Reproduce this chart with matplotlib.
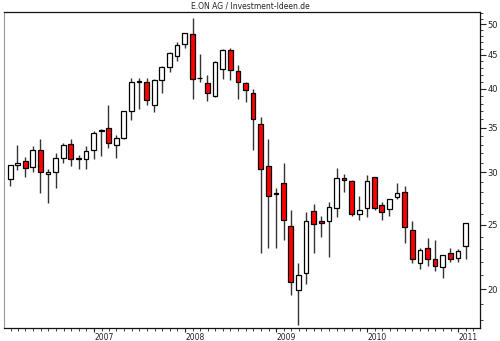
import matplotlib
matplotlib.use("Agg")
import matplotlib.pyplot as plt
import matplotlib.dates as mdates
from matplotlib.ticker import FixedLocator, NullFormatter
import numpy as np
import pandas as pd

# monthly candles, Jan 2006 .. Jan 2011 (plotted at month end)
MONTHS = pd.date_range("2006-01-31", periods=61, freq="ME")

OPEN = [29.3, 30.8, 31.2, 30.5, 32.4, 29.8, 30.0, 31.5, 33.1, 31.4,
        31.4, 32.4, 34.6, 34.9, 33.0, 33.8, 37.1, 41.0, 41.0, 37.9,
        41.3, 43.2, 44.9, 46.8, 48.3, 41.6, 40.8, 39.05, 42.8, 45.8,
        42.6, 40.8, 39.5, 35.4, 30.65, 27.9, 28.85, 24.9, 19.95, 21.2,
        26.25, 25.3, 25.35, 26.5, 29.35, 29.1, 26.0, 26.5, 29.45, 26.75,
        26.4, 27.5, 28.0, 24.6, 21.95, 23.1, 22.2, 21.6, 22.7, 22.3,
        23.2]
HIGH = [30.7, 32.9, 31.6, 32.8, 33.6, 30.3, 32.1, 33.2, 33.7, 31.8,
        32.8, 34.6, 34.8, 37.9, 34.1, 37.1, 41.5, 41.5, 41.5, 41.4,
        43.3, 45.4, 47.0, 48.6, 51.2, 45.2, 41.95, 44.0, 45.9, 46.1,
        43.4, 41.0, 40.0, 36.3, 33.6, 28.4, 30.95, 26.3, 21.9, 26.1,
        26.9, 25.8, 27.1, 30.4, 29.8, 29.2, 27.65, 29.7, 29.5, 27.1,
        27.3, 28.9, 28.6, 25.3, 23.1, 23.85, 23.7, 22.5, 23.05, 23.0,
        25.2]
LOW = [28.6, 30.2, 29.45, 30.0, 27.9, 27.0, 28.4, 31.0, 30.65, 30.3,
       30.3, 31.4, 31.7, 32.6, 31.5, 33.6, 35.9, 37.3, 37.9, 36.9,
       39.4, 42.4, 44.0, 46.1, 38.6, 40.9, 38.3, 38.9, 41.4, 41.2,
       38.6, 38.2, 32.4, 22.7, 23.1, 23.05, 23.7, 19.6, 17.7, 20.35,
       22.7, 24.0, 22.4, 25.7, 28.0, 25.8, 25.4, 25.7, 26.3, 25.4,
       25.8, 27.3, 23.45, 21.9, 21.45, 21.7, 21.3, 20.8, 22.0, 22.0,
       22.2]
CLOSE = [30.7, 31.0, 30.4, 32.4, 30.0, 30.0, 31.5, 33.0, 31.4, 31.5,
         32.3, 34.4, 34.7, 33.2, 33.8, 37.1, 40.9, 41.1, 38.5, 41.2,
         43.2, 45.3, 46.6, 48.5, 41.4, 41.5, 39.5, 43.9, 45.7, 42.7,
         41.0, 39.85, 36.1, 30.3, 27.65, 27.8, 25.4, 20.5, 21.0, 25.35,
         25.1, 25.2, 26.6, 29.35, 29.2, 26.0, 26.3, 29.1, 26.5, 26.1,
         27.3, 27.9, 24.8, 22.2, 22.9, 22.2, 21.7, 22.5, 22.2, 22.85,
         25.2]

YTICKS = [20, 25, 30, 35, 40, 45, 50]
TITLE = "E.ON AG / Investment-Ideen.de"

o = np.array(OPEN)
c = np.array(CLOSE)
up = c >= o
colors = np.where(up, "white", "#ff0000")

fig = plt.figure(figsize=(5.0, 3.41), dpi=100)
ax = fig.add_axes([0.008, 0.038, 0.952, 0.927])

ax.vlines(MONTHS, LOW, HIGH, color="#333333", linewidth=1.0, zorder=1)
ax.bar(MONTHS, np.abs(c - o), bottom=np.minimum(o, c), width=19,
       color=colors, edgecolor="black", linewidth=0.9, zorder=2)

ax.set_yscale("log")
ax.set_ylim(17.5, 52.2)
ax.yaxis.tick_right()
ax.yaxis.set_major_locator(FixedLocator(YTICKS))
ax.yaxis.set_minor_locator(FixedLocator(range(18, 53)))
ax.yaxis.set_minor_formatter(NullFormatter())
ax.set_yticklabels([str(t) for t in YTICKS])

ax.set_xlim(pd.Timestamp("2006-01-05"), pd.Timestamp("2011-03-29"))
ax.xaxis.set_major_locator(mdates.YearLocator())
ax.xaxis.set_major_formatter(mdates.DateFormatter("%Y"))
ax.xaxis.set_minor_locator(mdates.MonthLocator())

ax.tick_params(axis="y", which="major", labelsize=6, colors="#222222",
               length=4, width=0.8, pad=1.5)
ax.tick_params(axis="x", which="major", labelsize=5.5, colors="#222222",
               length=3, width=0.8, pad=0.5)
ax.tick_params(axis="both", which="minor", length=2, width=0.6, colors="#222222")
ax.tick_params(axis="y", which="both", right=True, left=False)
for lbl in ax.get_xticklabels():
    lbl.set_horizontalalignment("left")

for side in ["top", "right", "bottom"]:
    ax.spines[side].set_color("#111111")
    ax.spines[side].set_linewidth(0.9)
ax.spines["left"].set_color("#999999")

fig.text(0.5, 0.982, TITLE, ha="center", va="center", fontsize=5.5, color="#222222")

fig.savefig("out.png", dpi=100, facecolor="white")
